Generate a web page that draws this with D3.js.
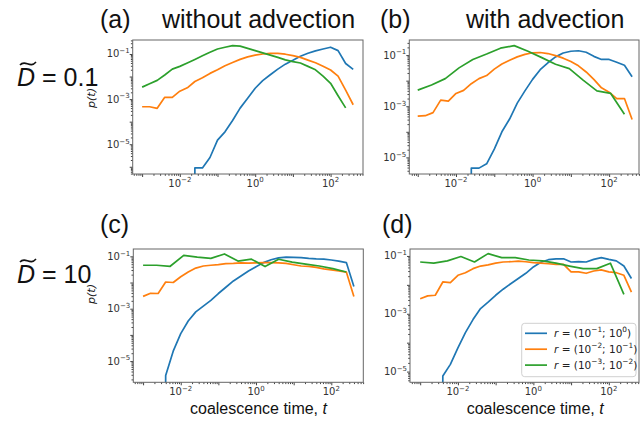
<!DOCTYPE html>
<html>
<head>
<meta charset="utf-8">
<script src="https://cdn.jsdelivr.net/npm/d3@7"></script>
<style>
  body { margin: 0; background: #fff; }
  svg { display: block; }
</style>
</head>
<body>
<div id="chart"></div>
<script>
// empty bin (p = 0): matplotlib clips it, so the line drops out of the axes
var E = -Infinity;

// coalescence time bins (blue / orange series and the coarser green series)
var tFine = [0.001, 0.00158, 0.00251, 0.00398, 0.00631, 0.01, 0.0158, 0.0251, 0.0398, 0.0631,
  0.1, 0.158, 0.251, 0.398, 0.631, 1, 1.58, 2.51, 3.98, 6.31,
  10, 15.8, 25.1, 39.8, 63.1, 100, 158, 251, 398];
var tCoarse = [0.001, 0.00229, 0.00525, 0.012, 0.0275, 0.0631, 0.145, 0.331,
  0.759, 1.74, 3.98, 9.12, 20.9, 47.9, 110, 251];

// log10 p(t)
// (a) D = 0.1, without advection
var aBlue = [E, E, E, E, E, E, E, -6.05, -6.05, -5.59, -4.82, -4.45, -3.95, -3.40, -2.96,
  -2.52, -2.18, -1.92, -1.67, -1.45, -1.28, -1.10, -0.97, -0.86, -0.78, -0.70, -0.85, -1.42, -1.68];
var aOrange = [-3.34, -3.34, -3.41, -2.92, -2.92, -2.65, -2.50, -2.22, -2.05, -1.86, -1.70, -1.52,
  -1.38, -1.24, -1.13, -1.05, -1.00, -0.97, -0.97, -1.01, -1.07, -1.15, -1.27, -1.39, -1.54,
  -1.71, -1.98, -2.60, -3.25];
var aGreen = [-2.47, -2.32, -2.17, -1.93, -1.67, -1.55, -1.40, -1.24, -1.08, -0.92, -0.78, -0.70,
  -0.63, -0.65, -0.75, -0.85, -0.95, -1.05, -1.15, -1.26, -1.34, -1.40, -1.55, -1.70, -1.98,
  -2.30, -2.85, -3.39, null];

// (b) D = 0.1, with advection
var bBlue = [E, E, E, E, E, E, E, -5.42, -5.42, -5.25, -4.68, -4.00, -3.50, -2.88, -2.40,
  -1.95, -1.57, -1.30, -1.07, -0.92, -0.85, -0.83, -0.89, -1.05, -1.17, -1.17, -1.28, -1.40, -1.85];
var bOrange = [-3.39, -3.37, -3.25, -2.76, -2.80, -2.50, -2.38, -2.12, -1.92, -1.80, -1.55, -1.35,
  -1.20, -1.07, -0.97, -0.91, -0.90, -0.94, -1.02, -1.12, -1.25, -1.42, -1.66, -1.95, -2.28,
  -2.45, -2.70, -2.70, -3.52];
var bGreen = [-2.37, -2.17, -1.92, -1.50, -1.17, -0.96, -0.73, -0.63, -0.85, -1.10, -1.36,
  -1.53, -1.98, -2.40, -2.50, -3.31];

// (c) D = 10, without advection
var cBlue = [E, E, E, -5.55, -4.62, -3.95, -3.47, -3.12, -2.90, -2.68, -2.42, -2.18, -1.94,
  -1.75, -1.56, -1.40, -1.24, -1.13, -1.06, -1.03, -1.04, -1.05, -1.08, -1.10, -1.11, -1.14,
  -1.18, -1.24, -2.15];
var cOrange = [-2.53, -2.41, -2.42, -1.98, -2.00, -1.78, -1.60, -1.45, -1.37, -1.34, -1.32, -1.28,
  -1.27, -1.25, -1.26, -1.25, -1.24, -1.24, -1.25, -1.27, -1.32, -1.37, -1.38, -1.42, -1.48,
  -1.52, -1.56, -1.60, -2.53];
var cGreen = [-1.34, -1.34, -1.38, -0.96, -1.03, -1.08, -0.91, -1.18, -1.11, -1.39, -1.11,
  -1.22, -1.30, -1.37, -1.47, -1.60];

// (d) D = 10, with advection
var dBlue = [E, E, E, -5.15, -4.75, -4.18, -3.65, -3.20, -2.82, -2.60, -2.36, -2.15, -1.96,
  -1.78, -1.60, -1.38, -1.22, -1.13, -1.10, -1.10, -1.21, -1.20, -1.21, -1.12, -1.06, -1.12,
  -1.17, -1.35, -1.78];
var dOrange = [-2.48, -2.38, -2.36, -1.90, -1.92, -1.67, -1.58, -1.44, -1.35, -1.31, -1.25, -1.21,
  -1.20, -1.18, -1.20, -1.23, -1.25, -1.27, -1.29, -1.29, -1.55, -1.55, -1.60, -1.52, -1.48,
  -1.55, -1.58, -1.67, -2.25];
var dGreen = [-1.21, -1.25, -1.17, -1.02, -1.21, -0.92, -1.06, -1.06, -1.14, -1.17, -1.25,
  -1.35, -1.44, -1.44, -1.25, -2.33];

var seriesColors = ["#1f77b4", "#ff7f0e", "#2ca02c"];
// legend: r = (10^a; 10^b)
var legendRanges = [["\u22121", "0"], ["\u22122", "\u22121"], ["\u22123", "\u22122"]];
var xLabelExp = [-2, 0, 2];
var yLabelExp = [-1, -3, -5];

var svgWidth = 640;
var svgHeight = 423;

var svg = d3.select("#chart")
  .append("svg")
  .attr("width", svgWidth)
  .attr("height", svgHeight);

// axes boxes (pixels) and visible log10 ranges
var panels = [
  { id: "a", x0: 132.7, x1: 363, y0: 40, y1: 174, xd: [-3.25, 2.86], yd: [-6.32, -0.38],
    lines: [[tFine, aBlue], [tFine, aOrange], [tFine, aGreen]] },
  { id: "b", x0: 409.3, x1: 639, y0: 40, y1: 174, xd: [-3.22, 2.78], yd: [-5.65, -0.41],
    lines: [[tFine, bBlue], [tFine, bOrange], [tCoarse, bGreen]] },
  { id: "c", x0: 133.3, x1: 363.3, y0: 249, y1: 382.3, xd: [-3.26, 2.85], yd: [-5.81, -0.72],
    lines: [[tFine, cBlue], [tFine, cOrange], [tCoarse, cGreen]] },
  { id: "d", x0: 410, x1: 639, y0: 249, y1: 382.3, xd: [-3.27, 2.80], yd: [-5.37, -0.76],
    lines: [[tFine, dBlue], [tFine, dOrange], [tCoarse, dGreen]] }
];

// text with superscripts: parts = [[text, "sup"|"it"|undefined], ...]
function richText(sel, parts, size) {
  var raised = false;
  parts.forEach(function(p) {
    var ts = sel.append("tspan").text(p[0]);
    if (p[1] === "sup") {
      ts.attr("font-size", size * 0.7);
      if (!raised) ts.attr("dy", -size * 0.42);
      raised = true;
    } else {
      if (raised) ts.attr("dy", size * 0.42);
      raised = false;
      if (p[1] === "it") ts.attr("font-style", "italic");
    }
  });
}

function logTicks(d0, d1) {
  var major = [], minor = [];
  for (var e = Math.floor(d0); e <= Math.ceil(d1); e++) {
    for (var m = 1; m < 10; m++) {
      var v = m * Math.pow(10, e);
      var lv = Math.log10(v);
      if (lv < d0 || lv > d1) continue;
      if (m === 1) major.push(v); else minor.push(v);
    }
  }
  return { major: major, minor: minor };
}

panels.forEach(function(p) {
  var x = d3.scaleLog()
    .domain([Math.pow(10, p.xd[0]), Math.pow(10, p.xd[1])])
    .range([p.x0, p.x1]);
  var y = d3.scaleLog()
    .domain([Math.pow(10, p.yd[0]), Math.pow(10, p.yd[1])])
    .range([p.y1, p.y0]);

  var g = svg.append("g");

  g.append("clipPath").attr("id", "clip-" + p.id)
    .append("rect")
    .attr("x", p.x0).attr("y", p.y0)
    .attr("width", p.x1 - p.x0).attr("height", p.y1 - p.y0);

  var line = d3.line()
    .defined(d => d.v !== null)
    .x(d => x(d.t))
    .y(d => d.v === E ? p.y1 + 3000 : y(Math.pow(10, d.v)));

  p.lines.forEach(function(s, i) {
    var pts = s[1].map((v, k) => ({ t: s[0][k], v: v }));
    g.append("path")
      .datum(pts)
      .attr("clip-path", "url(#clip-" + p.id + ")")
      .attr("fill", "none")
      .attr("stroke", seriesColors[i])
      .attr("stroke-width", 1.7)
      .attr("stroke-linejoin", "round")
      .attr("d", line);
  });

  // ticks
  var xt = logTicks(p.xd[0], p.xd[1]);
  var yt = logTicks(p.yd[0], p.yd[1]);

  [[xt.minor, 1.8], [xt.major, 3]].forEach(function(a) {
    g.append("g")
      .attr("transform", `translate(0, ${p.y1})`)
      .attr("color", "#444")
      .call(d3.axisBottom(x).tickValues(a[0]).tickSize(a[1]).tickFormat(""))
      .call(ax => ax.select(".domain").remove());
  });
  [[yt.minor, 1.8], [yt.major, 3]].forEach(function(a) {
    g.append("g")
      .attr("transform", `translate(${p.x0}, 0)`)
      .attr("color", "#444")
      .call(d3.axisLeft(y).tickValues(a[0]).tickSize(a[1]).tickFormat(""))
      .call(ax => ax.select(".domain").remove());
  });

  // frame
  g.append("rect")
    .attr("x", p.x0).attr("y", p.y0)
    .attr("width", p.x1 - p.x0).attr("height", p.y1 - p.y0)
    .attr("fill", "none")
    .attr("stroke", "#666")
    .attr("stroke-width", 1);

  // tick labels
  xLabelExp.forEach(function(e) {
    var t = g.append("text")
      .attr("x", x(Math.pow(10, e)))
      .attr("y", p.y1 + 12.5)
      .attr("text-anchor", "middle")
      .attr("font-family", "DejaVu Sans")
      .attr("font-size", 10)
      .attr("fill", "#333");
    richText(t, [["10"], [String(e).replace("-", "\u2212"), "sup"]], 10);
  });
  yLabelExp.forEach(function(e) {
    var t = g.append("text")
      .attr("x", p.x0 - 3)
      .attr("y", y(Math.pow(10, e)) + 3.5)
      .attr("text-anchor", "end")
      .attr("font-family", "DejaVu Sans")
      .attr("font-size", 10)
      .attr("fill", "#333");
    richText(t, [["10"], [String(e).replace("-", "\u2212"), "sup"]], 10);
  });
});

// y axis labels p(t)
[98, 294].forEach(function(cy) {
  svg.append("text")
    .attr("transform", `translate(95, ${cy}) rotate(-90)`)
    .attr("text-anchor", "middle")
    .attr("font-family", "DejaVu Sans")
    .attr("font-style", "italic")
    .attr("font-size", 11)
    .attr("fill", "#222")
    .text("p(t)");
});

// x axis labels
[190, 466.7].forEach(function(lx) {
  var t = svg.append("text")
    .attr("x", lx)
    .attr("y", 414)
    .attr("font-family", "Liberation Sans")
    .attr("font-size", 16)
    .attr("fill", "#111");
  richText(t, [["coalescence time, "], ["t", "it"]], 16);
});

// panel titles
var titles = [
  ["(a)", 100, 28], ["without advection", 162, 28],
  ["(b)", 380, 28], ["with advection", 466, 28],
  ["(c)", 100, 233], ["(d)", 382, 233]
];
titles.forEach(function(d) {
  svg.append("text")
    .attr("x", d[1])
    .attr("y", d[2])
    .attr("font-family", "Liberation Sans")
    .attr("font-size", 25)
    .attr("fill", "#111")
    .text(d[0]);
});

// row labels D~ = ...
[["0.1", 86], ["10", 283]].forEach(function(d) {
  var lx = 17, ly = d[1];
  var t = svg.append("text")
    .attr("x", lx)
    .attr("y", ly)
    .attr("font-family", "Liberation Sans")
    .attr("font-size", 25)
    .attr("fill", "#111");
  richText(t, [["D", "it"], [" = " + d[0]]], 25);
  svg.append("path")
    .attr("d", `M${lx + 3},${ly - 21} C${lx + 8},${ly - 27} ${lx + 13},${ly - 17} ${lx + 19},${ly - 24}`)
    .attr("fill", "none")
    .attr("stroke", "#111")
    .attr("stroke-width", 1.6);
});

// legend (panel d)
var legend = svg.append("g");
legend.append("rect")
  .attr("x", 521.7).attr("y", 323.3)
  .attr("width", 114.3).attr("height", 53.4)
  .attr("rx", 3)
  .attr("fill", "#fff").attr("fill-opacity", 0.8)
  .attr("stroke", "#d0d0d0");
legendRanges.forEach(function(r, i) {
  var ly = 333.3 + i * 15.9;
  legend.append("line")
    .attr("x1", 525).attr("x2", 547)
    .attr("y1", ly).attr("y2", ly)
    .attr("stroke", seriesColors[i])
    .attr("stroke-width", 1.7);
  var t = legend.append("text")
    .attr("x", 554)
    .attr("y", ly + 3.6)
    .attr("font-family", "DejaVu Sans")
    .attr("font-size", 10.5)
    .attr("fill", "#222");
  richText(t, [["r", "it"], [" = (10"], [r[0], "sup"], ["; 10"], [r[1], "sup"], [")"]], 10.5);
});
</script>
</body>
</html>
